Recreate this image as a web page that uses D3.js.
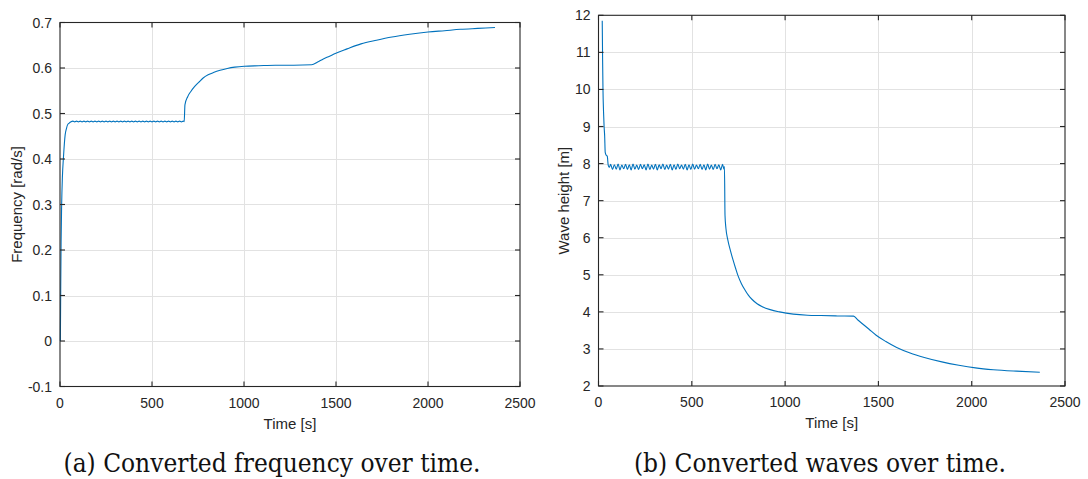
<!DOCTYPE html>
<html>
<head>
<meta charset="utf-8">
<script src="https://cdn.jsdelivr.net/npm/d3@7"></script>
<style>
  html, body { margin: 0; padding: 0; background: #ffffff; }
  svg { display: block; }
</style>
</head>
<body>
<svg id="fig" width="1088" height="479"></svg>
<script>
// ---- Converted frequency [rad/s] against time [s] ----
const freqTime = [
  2, 4, 6, 9, 13, 19, 28, 35, 41, 50, 60,
  70, 80, 90, 100, 110, 120, 130, 140, 150, 160,
  170, 180, 190, 200, 210, 220, 230, 240, 250, 260,
  270, 280, 290, 300, 310, 320, 330, 340, 350, 360,
  370, 380, 390, 400, 410, 420, 430, 440, 450, 460,
  470, 480, 490, 500, 510, 520, 530, 540, 550, 560,
  570, 580, 590, 600, 610, 620, 630, 640, 650, 660,
  670,
  675, 679, 694, 712, 731, 755, 778, 805, 834, 870, 909, 950, 1002, 1080, 1170, 1270, 1368,
  1400, 1431, 1465, 1496, 1560, 1636, 1720, 1804, 1900, 2000, 2090, 2177, 2270, 2364
];
const freqValue = [
  0.000, 0.120, 0.220, 0.300, 0.360, 0.405, 0.453, 0.467, 0.475, 0.479, 0.482,
  0.4832, 0.4815, 0.4832, 0.4815, 0.4832, 0.4815, 0.4832, 0.4815, 0.4832, 0.4815,
  0.4832, 0.4815, 0.4832, 0.4815, 0.4832, 0.4815, 0.4832, 0.4815, 0.4832, 0.4815,
  0.4832, 0.4815, 0.4832, 0.4815, 0.4832, 0.4815, 0.4832, 0.4815, 0.4832, 0.4815,
  0.4832, 0.4815, 0.4832, 0.4815, 0.4832, 0.4815, 0.4832, 0.4815, 0.4832, 0.4815,
  0.4832, 0.4815, 0.4832, 0.4815, 0.4832, 0.4815, 0.4832, 0.4815, 0.4832, 0.4815,
  0.4832, 0.4815, 0.4832, 0.4815, 0.4832, 0.4815, 0.4832, 0.4815, 0.4832, 0.4815,
  0.4832,
  0.482, 0.519, 0.537, 0.549, 0.559, 0.569, 0.578, 0.585, 0.590, 0.595, 0.599, 0.602, 0.604, 0.605, 0.606, 0.606, 0.607,
  0.613, 0.620, 0.626, 0.632, 0.642, 0.653, 0.661, 0.668, 0.674, 0.679, 0.682, 0.685, 0.687, 0.689
];

// ---- Converted wave height [m] against time [s] ----
const waveTime = [
  20, 22, 24, 27, 30, 33, 36, 42, 47, 52, 58,
  65, 75, 85, 95, 105, 115, 125, 135, 145, 155,
  165, 175, 185, 195, 205, 215, 225, 235, 245, 255,
  265, 275, 285, 295, 305, 315, 325, 335, 345, 355,
  365, 375, 385, 395, 405, 415, 425, 435, 445, 455,
  465, 475, 485, 495, 505, 515, 525, 535, 545, 555,
  565, 575, 585, 595, 605, 615, 625, 635, 645, 655,
  665,
  672, 675, 678, 683, 693, 707, 721, 735, 748, 766, 785, 803, 822, 850, 878, 920, 970,
  1044, 1120, 1192, 1280, 1367, 1390, 1414, 1450, 1488, 1540, 1598, 1670, 1746, 1840,
  1931, 2020, 2116, 2240, 2365
];
const waveHeight = [
  11.85, 10.80, 10.00, 9.40, 9.00, 8.75, 8.30, 8.22, 8.20, 7.96, 7.90,
  7.98, 7.84, 7.97, 7.85, 7.99, 7.83, 7.96, 7.86, 7.98, 7.84,
  7.97, 7.83, 7.99, 7.85, 7.96, 7.84, 7.98, 7.86, 7.97, 7.83,
  7.99, 7.84, 7.96, 7.85, 7.98, 7.83, 7.97, 7.86, 7.99, 7.84,
  7.96, 7.85, 7.98, 7.83, 7.97, 7.84, 7.99, 7.86, 7.96, 7.85,
  7.98, 7.83, 7.97, 7.84, 7.99, 7.85, 7.96, 7.86, 7.98, 7.84,
  7.97, 7.83, 7.99, 7.85, 7.96, 7.84, 7.98, 7.86, 7.97, 7.83,
  7.98,
  7.85, 7.92, 6.60, 6.25, 5.94, 5.65, 5.40, 5.17, 4.97, 4.76, 4.59, 4.45, 4.34, 4.22, 4.14, 4.06, 4.00,
  3.94, 3.91, 3.90, 3.89, 3.885, 3.78, 3.68, 3.53, 3.37, 3.20, 3.04, 2.89, 2.77, 2.65,
  2.56, 2.49, 2.44, 2.40, 2.37
];

// ---- Axis ticks and labels ----
const timeTicks = [0, 500, 1000, 1500, 2000, 2500];
const timeTickLabels = ["0", "500", "1000", "1500", "2000", "2500"];
const freqTicks = [-0.1, 0, 0.1, 0.2, 0.3, 0.4, 0.5, 0.6, 0.7];
const freqTickLabels = ["-0.1", "0", "0.1", "0.2", "0.3", "0.4", "0.5", "0.6", "0.7"];
const waveTicks = [2, 3, 4, 5, 6, 7, 8, 9, 10, 11, 12];
const waveTickLabels = ["2", "3", "4", "5", "6", "7", "8", "9", "10", "11", "12"];

const axisTitles = ["Time [s]", "Frequency [rad/s]", "Wave height [m]"];
const captions = ["(a) Converted frequency over time.", "(b) Converted waves over time."];

// ---- Styling ----
const INK = "#262626";
const GRID = "#e2e2e2";
const LINE = "#0072BD";
const SANS = "'Liberation Sans', Arial, Helvetica, sans-serif";
const SERIF = "'DejaVu Serif Condensed', 'DejaVu Serif', serif";
const TICK_LEN = 5;

const svg = d3.select("#fig");

function drawPanel(cfg) {
  const { x0, x1, y0, y1 } = cfg.box;
  const x = d3.scaleLinear().domain([0, 2500]).range([x0, x1]);
  const y = d3.scaleLinear().domain(cfg.yDomain).range([y1, y0]);
  const g = svg.append("g");

  // grid
  const grid = g.append("g").attr("stroke", GRID).attr("stroke-width", 1);
  grid.selectAll("line.gx").data(timeTicks.slice(1, -1)).join("line")
    .attr("x1", d => Math.round(x(d)) + 0.5).attr("x2", d => Math.round(x(d)) + 0.5)
    .attr("y1", y0).attr("y2", y1);
  grid.selectAll("line.gy").data(cfg.yTicks.slice(1, -1)).join("line")
    .attr("y1", d => Math.round(y(d)) + 0.5).attr("y2", d => Math.round(y(d)) + 0.5)
    .attr("x1", x0).attr("x2", x1);

  // data line
  const pts = cfg.t.map((t, i) => [t, cfg.v[i]]);
  g.append("path")
    .datum(pts)
    .attr("fill", "none")
    .attr("stroke", LINE)
    .attr("stroke-width", 1.1)
    .attr("stroke-linejoin", "round")
    .attr("d", d3.line().curve(d3.curveMonotoneX).x(d => x(d[0])).y(d => y(d[1])));

  // box
  g.append("rect")
    .attr("x", x0).attr("y", y0).attr("width", x1 - x0).attr("height", y1 - y0)
    .attr("fill", "none").attr("stroke", INK).attr("stroke-width", 1.1);

  // inward ticks on all four sides
  const ticks = g.append("g").attr("stroke", INK).attr("stroke-width", 1.1);
  timeTicks.forEach(d => {
    const px = x(d);
    ticks.append("line").attr("x1", px).attr("x2", px).attr("y1", y1).attr("y2", y1 - TICK_LEN);
    ticks.append("line").attr("x1", px).attr("x2", px).attr("y1", y0).attr("y2", y0 + TICK_LEN);
  });
  cfg.yTicks.forEach(d => {
    const py = y(d);
    ticks.append("line").attr("y1", py).attr("y2", py).attr("x1", x0).attr("x2", x0 + TICK_LEN);
    ticks.append("line").attr("y1", py).attr("y2", py).attr("x1", x1).attr("x2", x1 - TICK_LEN);
  });

  // tick labels
  g.append("g").selectAll("text").data(timeTicks).join("text")
    .attr("x", d => x(d)).attr("y", y1 + 21)
    .attr("text-anchor", "middle")
    .attr("font-family", SANS).attr("font-size", 14).attr("fill", INK)
    .text((d, i) => timeTickLabels[i]);
  g.append("g").selectAll("text").data(cfg.yTicks).join("text")
    .attr("x", x0 - 8).attr("y", d => y(d)).attr("dy", "0.36em")
    .attr("text-anchor", "end")
    .attr("font-family", SANS).attr("font-size", 14).attr("fill", INK)
    .text((d, i) => cfg.yTickLabels[i]);

  // axis titles
  g.append("text")
    .attr("x", (x0 + x1) / 2).attr("y", y1 + 42)
    .attr("text-anchor", "middle")
    .attr("font-family", SANS).attr("font-size", 15).attr("fill", INK)
    .text(axisTitles[0]);
  g.append("text")
    .attr("transform", `translate(${cfg.yTitleX},${(y0 + y1) / 2}) rotate(-90)`)
    .attr("text-anchor", "middle").attr("dy", "0.36em")
    .attr("font-family", SANS).attr("font-size", 15).attr("fill", INK)
    .text(cfg.yTitle);

  // caption
  g.append("text")
    .attr("x", cfg.captionX).attr("y", 472)
    .attr("text-anchor", "middle")
    .attr("font-family", SERIF).attr("font-size", 26).attr("fill", "#111111")
    .text(cfg.caption);
}

drawPanel({
  box: { x0: 60, x1: 520, y0: 22.5, y1: 386.5 },
  t: freqTime, v: freqValue,
  yDomain: [-0.1, 0.7], yTicks: freqTicks, yTickLabels: freqTickLabels,
  yTitle: axisTitles[1], yTitleX: 17,
  caption: captions[0], captionX: 272
});

drawPanel({
  box: { x0: 598.5, x1: 1065, y0: 15.3, y1: 386 },
  t: waveTime, v: waveHeight,
  yDomain: [2, 12], yTicks: waveTicks, yTickLabels: waveTickLabels,
  yTitle: axisTitles[2], yTitleX: 564,
  caption: captions[1], captionX: 820
});
</script>
</body>
</html>
